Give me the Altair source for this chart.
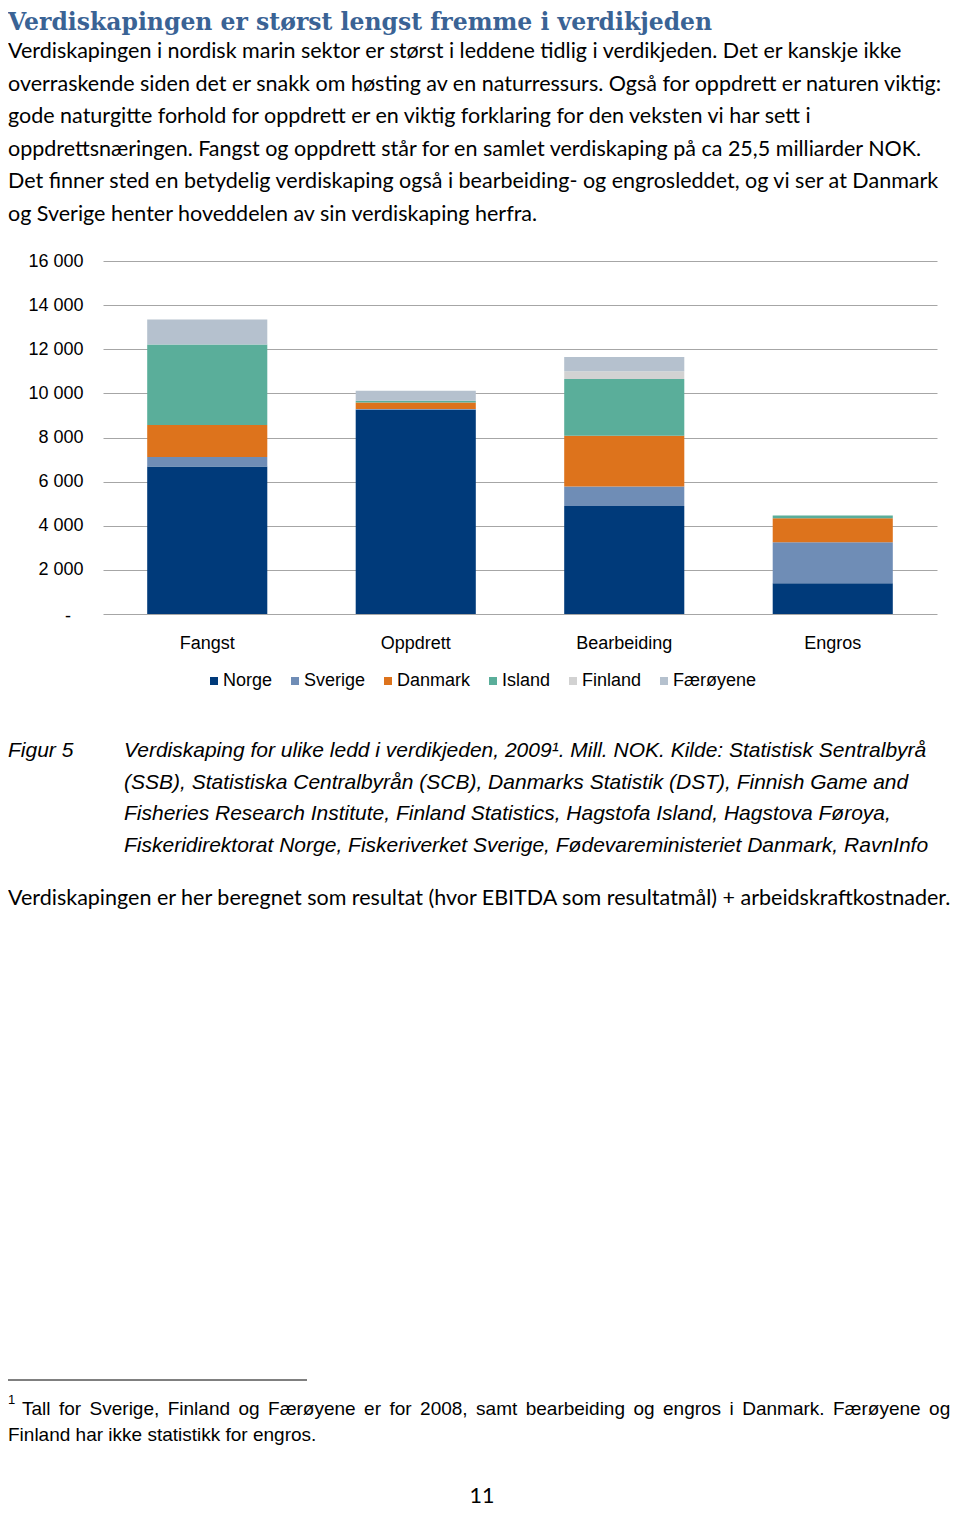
import altair as alt
import pandas as pd

# ---------------- data ----------------
categories = ["Fangst", "Oppdrett", "Bearbeiding", "Engros"]
series = ["Norge", "Sverige", "Danmark", "Island", "Finland", "Færøyene"]
norge = [6690, 9260, 4900, 1390]
sverige = [430, 30, 880, 1860]
danmark = [1450, 300, 2300, 1090]
island = [3650, 80, 2570, 120]
finland = [0, 0, 350, 0]
faeroyene = [1130, 450, 650, 0]
y_ticks = [0, 2000, 4000, 6000, 8000, 10000, 12000, 14000, 16000]
zero_label = "-"
colors = ["#003A7A", "#6F8DB6", "#DD731C", "#5AAE9A", "#D2D2D2", "#B5C1CE"]

heading = "Verdiskapingen er størst lengst fremme i verdikjeden"
intro = [
    "Verdiskapingen i nordisk marin sektor er størst i leddene tidlig i verdikjeden. Det er kanskje ikke",
    "overraskende siden det er snakk om høsting av en naturressurs. Også for oppdrett er naturen viktig:",
    "gode naturgitte forhold for oppdrett er en viktig forklaring for den veksten vi har sett i",
    "oppdrettsnæringen. Fangst og oppdrett står for en samlet verdiskaping på ca 25,5 milliarder NOK.",
    "Det finner sted en betydelig verdiskaping også i bearbeiding- og engrosleddet, og vi ser at Danmark",
    "og Sverige henter hoveddelen av sin verdiskaping herfra.",
]
fig_label = "Figur 5"
caption = [
    "Verdiskaping for ulike ledd i verdikjeden, 2009¹. Mill. NOK. Kilde: Statistisk Sentralbyrå",
    "(SSB), Statistiska Centralbyrån (SCB), Danmarks Statistik (DST), Finnish Game and",
    "Fisheries Research Institute, Finland Statistics, Hagstofa Island, Hagstova Føroya,",
    "Fiskeridirektorat Norge, Fiskeriverket Sverige, Fødevareministeriet Danmark, RavnInfo",
]
note = "Verdiskapingen er her beregnet som resultat (hvor EBITDA som resultatmål) + arbeidskraftkostnader."
foot_mark = "1"
foot_line1 = "Tall for Sverige, Finland og Færøyene er for 2008, samt bearbeiding og engros i Danmark. Færøyene og"
foot_line2 = "Finland har ikke statistikk for engros."
page_no = "11"

# ---------------- long table ----------------
values = [norge, sverige, danmark, island, finland, faeroyene]
rows = []
for si, (name, vals) in enumerate(zip(series, values)):
    for cat, v in zip(categories, vals):
        rows.append({"ledd": cat, "land": name, "verdi": v, "idx": si})
df = pd.DataFrame(rows)

BODY = "Lato"
ARIAL = "Liberation Sans"
BODY_SIZE = 21.5

bars = alt.Chart(df).mark_bar(strokeWidth=0).encode(
    x=alt.X(
        "ledd:N",
        sort=categories,
        scale=alt.Scale(paddingInner=0.424, paddingOuter=0.212),
        axis=alt.Axis(
            title=None, labelAngle=0, domain=False, ticks=False, grid=False,
            labelFont=ARIAL, labelFontSize=18, labelColor="#000000", labelPadding=20,
        ),
    ),
    y=alt.Y(
        "verdi:Q",
        stack="zero",
        scale=alt.Scale(domain=[0, 16000], nice=False),
        axis=alt.Axis(
            title=None, values=y_ticks, domain=False, ticks=False,
            gridColor="#A6A6A6", gridWidth=1,
            labelFont=ARIAL, labelFontSize=18, labelColor="#000000", labelPadding=20,
            labelExpr="datum.value == 0 ? '' : replace(format(datum.value, ','), ',', ' ')",
        ),
    ),
    color=alt.Color(
        "land:N",
        scale=alt.Scale(domain=series, range=colors),
        legend=alt.Legend(
            title=None, orient="none", legendX=102, legendY=411, direction="horizontal",
            symbolType="square", symbolSize=64, symbolStrokeWidth=0,
            labelFont=ARIAL, labelFontSize=18, labelColor="#000000",
            labelOffset=0, columnPadding=13,
        ),
    ),
    order=alt.Order("idx:Q", sort="ascending"),
)

# "-" label for the zero tick, placed through the y scale
zero_tick = alt.Chart(alt.Data(values=[{"v": 0, "t": zero_label}])).mark_text(
    font=ARIAL, fontSize=18, color="#000000", align="center", baseline="middle", dy=3
).encode(x=alt.value(-35), y=alt.Y("v:Q"), text="t:N")


def txt(lines, x, y, size, font=BODY, style="normal", weight="normal",
        color="#000000", lh=None, align="left"):
    kw = dict(text=lines, font=font, fontSize=size, fontStyle=style,
              fontWeight=weight, color=color, align=align, baseline="alphabetic")
    if lh is not None:
        kw["lineHeight"] = lh
    return alt.Chart(alt.Data(values=[{"k": 0}])).mark_text(**kw).encode(
        x=alt.value(x), y=alt.value(y)
    )


# justified first footnote line: widen each word gap a little (six-per-em space)
foot_line1_justified = foot_line1.replace(" ", " \u2006")

layers = [
    bars,
    zero_tick,
    txt(heading, -95, -231, 23.5, font="DejaVu Serif", weight="bold", color="#3A6395"),
    txt(intro, -95, -203, BODY_SIZE, lh=32.6),
    txt(fig_label, -95, 496, 21, font=ARIAL, style="italic"),
    txt(caption, 21, 496, 21, font=ARIAL, style="italic", lh=31.6),
    txt(note, -95, 644, BODY_SIZE),
    alt.Chart(alt.Data(values=[{"k": 0}])).mark_rule(color="#000000", strokeWidth=1).encode(
        x=alt.value(-95), x2=alt.value(204), y=alt.value(1119)
    ),
    txt(foot_mark, -95, 1143, 13, font=ARIAL),
    txt(foot_line1_justified, -81, 1154, 19, font=ARIAL),
    txt(foot_line2, -95, 1180, 19, font=ARIAL),
    txt(page_no, 379, 1242, BODY_SIZE, align="center"),
]

chart = alt.layer(*layers).properties(
    width=834,
    height=353,
    autosize=alt.AutoSizeParams(type="none"),
    padding={"left": 95, "top": 253, "right": 15, "bottom": 893},
).configure_view(stroke=None)

chart.save("out.html", embed_options={"renderer": "svg", "actions": False})
